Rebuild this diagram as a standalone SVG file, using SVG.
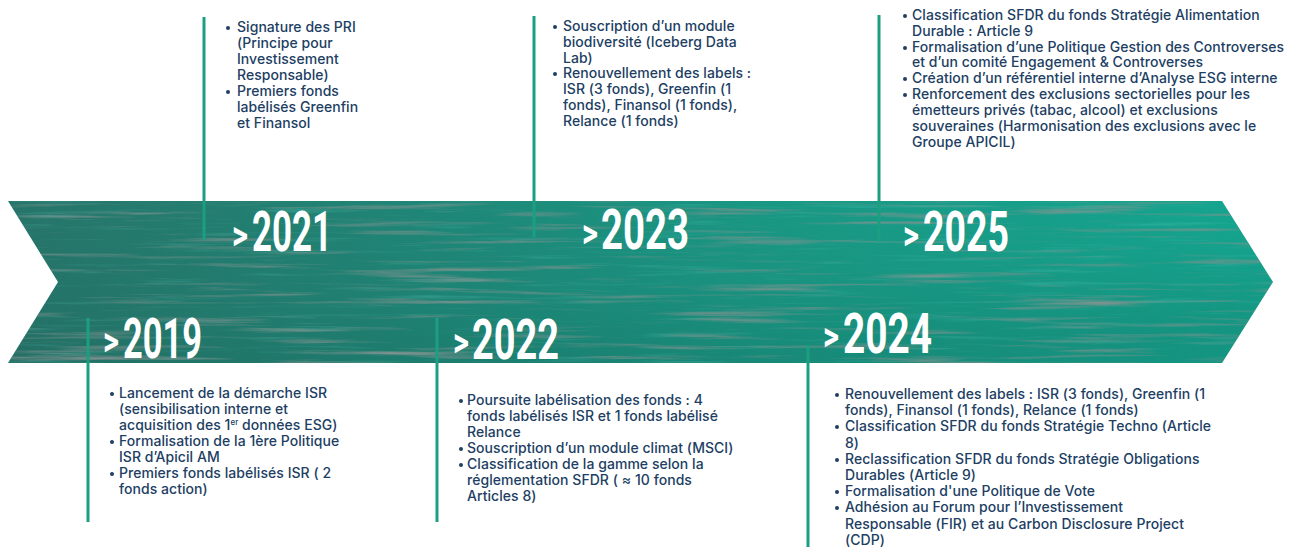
<svg xmlns="http://www.w3.org/2000/svg" width="1291" height="547" viewBox="0 0 1291 547">
  <defs>
    <style>
      .body { font-family: Inter, "Noto Sans", "Liberation Sans", sans-serif; font-size: 14px; font-weight: 500; letter-spacing: 0.05px; fill: #213e63; }
      .dot { fill: #213e63; }
      .yr { font-family: Roboto, "Liberation Sans", sans-serif; font-weight: 700; fill: #ffffff; }
      .gt { font-size: 40px; }
      .num { font-size: 56px; }
      .stem { stroke: #1b9f80; stroke-width: 3; fill: none; }
    </style>
    <!-- base colour of the band: darker teal on the left, brighter on the right -->
    <linearGradient id="bandBase" x1="0" y1="0" x2="1" y2="0">
      <stop offset="0" stop-color="#27756a"/>
      <stop offset="0.3" stop-color="#208677"/>
      <stop offset="0.6" stop-color="#1a9b87"/>
      <stop offset="1" stop-color="#15ac95"/>
    </linearGradient>
    <linearGradient id="bandShade" x1="0" y1="0" x2="0.6" y2="1">
      <stop offset="0" stop-color="#0d3f38" stop-opacity="0"/>
      <stop offset="0.6" stop-color="#0d3f38" stop-opacity="0.08"/>
      <stop offset="1" stop-color="#0d3f38" stop-opacity="0.2"/>
    </linearGradient>
    <!-- fine horizontal brush-stroke grain -->
    <filter id="streaks" x="0" y="0" width="100%" height="100%">
      <feTurbulence type="fractalNoise" baseFrequency="0.006 0.18" numOctaves="5" seed="7" result="n"/>
      <feColorMatrix in="n" type="matrix" values="0 0 0 0 0.22  0 0 0 0 0.29  0 0 0 0 0.28  2.6 0 0 0 -1.42" result="dark"/>
      <feTurbulence type="fractalNoise" baseFrequency="0.008 0.22" numOctaves="4" seed="21" result="m"/>
      <feColorMatrix in="m" type="matrix" values="0 0 0 0 0.12  0 0 0 0 0.62  0 0 0 0 0.54  0.8 0 0 0 -0.48" result="light"/>
      <feMerge result="both">
        <feMergeNode in="light"/>
        <feMergeNode in="dark"/>
      </feMerge>
      <feComposite in="both" in2="SourceGraphic" operator="in"/>
    </filter>
  </defs>

  <rect width="1291" height="547" fill="#ffffff"/>

  <!-- timeline band (notched arrow) -->
  <g id="band">
    <polygon points="8,201 1222,201 1273,282 1222,363 8,363 58,282" fill="url(#bandBase)"/>
    <polygon points="8,201 1222,201 1273,282 1222,363 8,363 58,282" fill="url(#bandShade)"/>
    <polygon points="8,201 1222,201 1273,282 1222,363 8,363 58,282" fill="#000" filter="url(#streaks)"/>
  </g>

  <!-- stems linking each year to its notes -->
  <g id="connectors">
    <line class="stem" x1="204" y1="17" x2="204" y2="240"/>
    <line class="stem" x1="534" y1="16" x2="534" y2="237"/>
    <line class="stem" x1="879" y1="15" x2="879" y2="242"/>
    <line class="stem" x1="88" y1="318" x2="88" y2="522"/>
    <line class="stem" x1="437" y1="318" x2="437" y2="522"/>
    <line class="stem" x1="808" y1="345" x2="808" y2="547"/>
  </g>

  <!-- 2019 -->
  <g id="y2019">
    <text class="yr gt" x="103" y="355" textLength="16" lengthAdjust="spacingAndGlyphs">&gt;</text>
    <text class="yr num" x="123" y="358" textLength="79" lengthAdjust="spacingAndGlyphs">2019</text>
    <circle class="dot" cx="112" cy="394" r="2"/>
    <circle class="dot" cx="112" cy="442" r="2"/>
    <circle class="dot" cx="112" cy="474" r="2"/>
    <text class="body">
      <tspan x="119" y="398">Lancement de la démarche ISR</tspan>
      <tspan x="119" y="414">(sensibilisation interne et</tspan>
      <tspan x="119" y="430">acquisition des 1<tspan font-size="8" dy="-5">er</tspan><tspan dy="5"> données ESG)</tspan></tspan>
      <tspan x="119" y="446">Formalisation de la 1ère Politique</tspan>
      <tspan x="119" y="462">ISR d’Apicil AM</tspan>
      <tspan x="119" y="478">Premiers fonds labélisés ISR ( 2</tspan>
      <tspan x="119" y="494">fonds action)</tspan>
    </text>
  </g>

  <!-- 2021 -->
  <g id="y2021">
    <text class="yr gt" x="232" y="249" textLength="16" lengthAdjust="spacingAndGlyphs">&gt;</text>
    <text class="yr num" x="252" y="251" textLength="80" lengthAdjust="spacingAndGlyphs">2021</text>
    <circle class="dot" cx="228" cy="28" r="2"/>
    <circle class="dot" cx="228" cy="92" r="2"/>
    <text class="body">
      <tspan x="237" y="32">Signature des PRI</tspan>
      <tspan x="237" y="48">(Principe pour</tspan>
      <tspan x="237" y="64">Investissement</tspan>
      <tspan x="237" y="80">Responsable)</tspan>
      <tspan x="237" y="96">Premiers fonds</tspan>
      <tspan x="237" y="112">labélisés Greenfin</tspan>
      <tspan x="237" y="128">et Finansol</tspan>
    </text>
  </g>

  <!-- 2022 -->
  <g id="y2022">
    <text class="yr gt" x="453" y="356" textLength="16" lengthAdjust="spacingAndGlyphs">&gt;</text>
    <text class="yr num" x="472" y="359" textLength="87" lengthAdjust="spacingAndGlyphs">2022</text>
    <circle class="dot" cx="461" cy="401" r="2"/>
    <circle class="dot" cx="461" cy="449" r="2"/>
    <circle class="dot" cx="461" cy="465" r="2"/>
    <text class="body">
      <tspan x="467" y="405">Poursuite labélisation des fonds : 4</tspan>
      <tspan x="467" y="421">fonds labélisés ISR et 1 fonds labélisé</tspan>
      <tspan x="467" y="437">Relance</tspan>
      <tspan x="467" y="453">Souscription d’un module climat (MSCI)</tspan>
      <tspan x="467" y="469">Classification de la gamme selon la</tspan>
      <tspan x="467" y="485">réglementation SFDR ( ≈ 10 fonds</tspan>
      <tspan x="467" y="501">Articles 8)</tspan>
    </text>
  </g>

  <!-- 2023 -->
  <g id="y2023">
    <text class="yr gt" x="582" y="247" textLength="16" lengthAdjust="spacingAndGlyphs">&gt;</text>
    <text class="yr num" x="601" y="249" textLength="88" lengthAdjust="spacingAndGlyphs">2023</text>
    <circle class="dot" cx="555" cy="27" r="2"/>
    <circle class="dot" cx="555" cy="74" r="2"/>
    <text class="body">
      <tspan x="563" y="31">Souscription d’un module</tspan>
      <tspan x="563" y="47">biodiversité (Iceberg Data</tspan>
      <tspan x="563" y="63">Lab)</tspan>
      <tspan x="563" y="78">Renouvellement des labels :</tspan>
      <tspan x="563" y="94">ISR (3 fonds), Greenfin (1</tspan>
      <tspan x="563" y="110">fonds), Finansol (1 fonds),</tspan>
      <tspan x="563" y="126">Relance (1 fonds)</tspan>
    </text>
  </g>

  <!-- 2024 -->
  <g id="y2024">
    <text class="yr gt" x="823" y="350" textLength="16" lengthAdjust="spacingAndGlyphs">&gt;</text>
    <text class="yr num" x="843" y="353" textLength="89" lengthAdjust="spacingAndGlyphs">2024</text>
    <circle class="dot" cx="837" cy="395" r="2"/>
    <circle class="dot" cx="837" cy="427" r="2"/>
    <circle class="dot" cx="837" cy="460" r="2"/>
    <circle class="dot" cx="837" cy="492" r="2"/>
    <circle class="dot" cx="837" cy="508" r="2"/>
    <text class="body">
      <tspan x="845" y="399">Renouvellement des labels : ISR (3 fonds), Greenfin (1</tspan>
      <tspan x="845" y="415">fonds), Finansol (1 fonds), Relance (1 fonds)</tspan>
      <tspan x="845" y="431">Classification SFDR du fonds Stratégie Techno (Article</tspan>
      <tspan x="845" y="448">8)</tspan>
      <tspan x="845" y="464">Reclassification SFDR du fonds Stratégie Obligations</tspan>
      <tspan x="845" y="480">Durables (Article 9)</tspan>
      <tspan x="845" y="496">Formalisation d'une Politique de Vote</tspan>
      <tspan x="845" y="512">Adhésion au Forum pour l’Investissement</tspan>
      <tspan x="845" y="529">Responsable (FIR) et au Carbon Disclosure Project</tspan>
      <tspan x="845" y="545">(CDP)</tspan>
    </text>
  </g>

  <!-- 2025 -->
  <g id="y2025">
    <text class="yr gt" x="903" y="249" textLength="16" lengthAdjust="spacingAndGlyphs">&gt;</text>
    <text class="yr num" x="923" y="251" textLength="86" lengthAdjust="spacingAndGlyphs">2025</text>
    <circle class="dot" cx="905" cy="16" r="2"/>
    <circle class="dot" cx="905" cy="48" r="2"/>
    <circle class="dot" cx="905" cy="79" r="2"/>
    <circle class="dot" cx="905" cy="95" r="2"/>
    <text class="body">
      <tspan x="912" y="20">Classification SFDR du fonds Stratégie Alimentation</tspan>
      <tspan x="912" y="36">Durable : Article 9</tspan>
      <tspan x="912" y="52">Formalisation d’une Politique Gestion des Controverses</tspan>
      <tspan x="912" y="67">et d’un comité Engagement &amp; Controverses</tspan>
      <tspan x="912" y="83">Création d’un référentiel interne d’Analyse ESG interne</tspan>
      <tspan x="912" y="99">Renforcement des exclusions sectorielles pour les</tspan>
      <tspan x="912" y="115">émetteurs privés (tabac, alcool) et exclusions</tspan>
      <tspan x="912" y="131">souveraines (Harmonisation des exclusions avec le</tspan>
      <tspan x="912" y="147">Groupe APICIL)</tspan>
    </text>
  </g>
</svg>
